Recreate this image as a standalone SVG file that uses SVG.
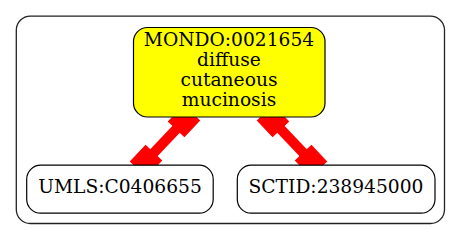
<svg xmlns="http://www.w3.org/2000/svg" width="461" height="240" viewBox="0 0 461 240">
  <style>
    .node rect { stroke: #000; stroke-width: 1.2; }
    .lbl { font-family: "DejaVu Serif", "Liberation Serif", serif; font-size: 18.67px; fill: #000; text-anchor: middle; }
    .edge line { stroke: #ff0000; stroke-width: 10; }
    .edge rect { fill: #ff0000; stroke: #ff0000; stroke-width: 1; }
  </style>
  <rect width="461" height="240" fill="#ffffff"/>

  <!-- enclosing cluster -->
  <g id="cluster">
    <rect x="16.3" y="16.2" width="428.2" height="207.3" rx="14" ry="14" fill="none" stroke="#222" stroke-width="1.3"/>
  </g>

  <!-- connectors: thick lines with box ends -->
  <g id="edges" class="edge">
    <g id="edge-umls">
      <line x1="184" y1="121" x2="146" y2="161"/>
      <rect x="-11" y="-11" width="22" height="22" transform="translate(184 121) rotate(133.5)"/>
      <rect x="-11" y="-11" width="22" height="22" transform="translate(146 161) rotate(133.5)"/>
    </g>
    <g id="edge-sctid">
      <line x1="273" y1="121" x2="311" y2="161"/>
      <rect x="-11" y="-11" width="22" height="22" transform="translate(273 121) rotate(46.5)"/>
      <rect x="-11" y="-11" width="22" height="22" transform="translate(311 161) rotate(46.5)"/>
    </g>
  </g>

  <g id="mondo" class="node">
    <rect x="133.5" y="27.5" width="191.5" height="89.5" rx="14" ry="14" fill="#ffff00"/>
    <text class="lbl" x="229" y="46">MONDO:0021654</text>
    <text class="lbl" x="229" y="66">diffuse</text>
    <text class="lbl" x="229" y="86">cutaneous</text>
    <text class="lbl" x="229" y="106">mucinosis</text>
  </g>

  <g id="umls" class="node">
    <rect x="26.7" y="165.2" width="186.5" height="48" rx="14" ry="14" fill="#ffffff"/>
    <text class="lbl" x="120" y="193.3">UMLS:C0406655</text>
  </g>

  <g id="sctid" class="node">
    <rect x="237.3" y="165.2" width="197.7" height="48" rx="14" ry="14" fill="#ffffff"/>
    <text class="lbl" x="336" y="193.3">SCTID:238945000</text>
  </g>
</svg>
